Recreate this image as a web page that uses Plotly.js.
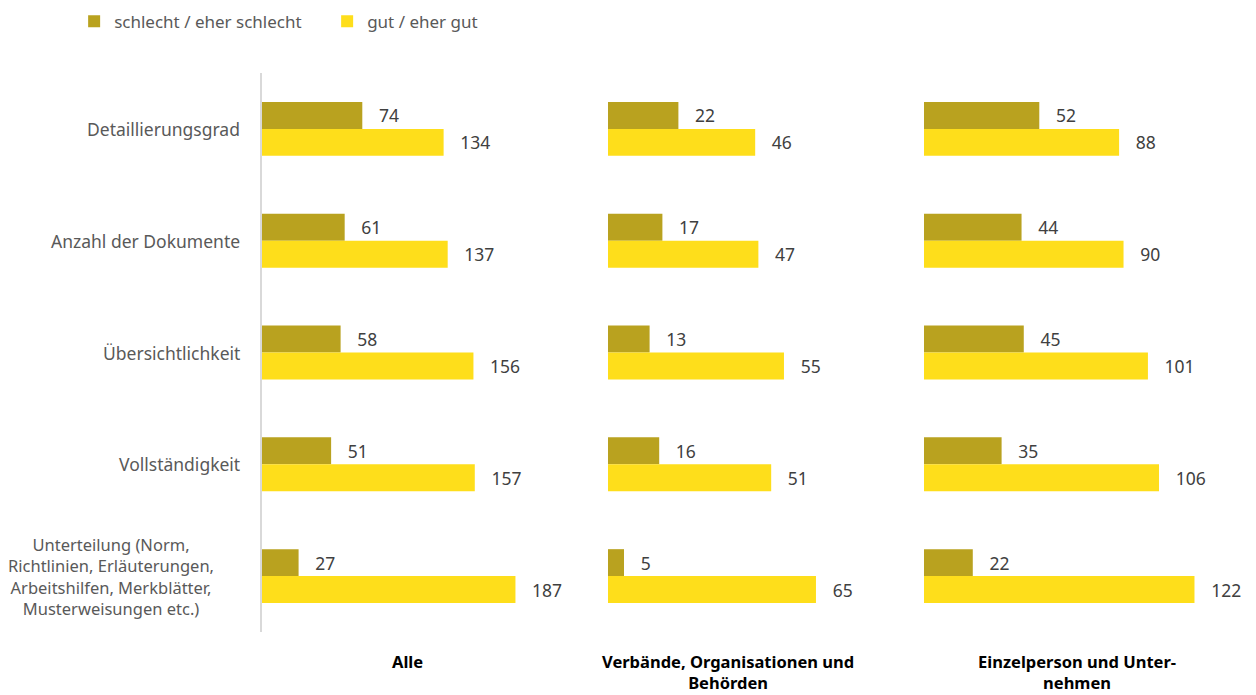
<!DOCTYPE html>
<html>
<head>
<meta charset="utf-8">
<script src="https://cdn.plot.ly/plotly-3.0.1.min.js"></script>
<style>
    html, body { margin: 0; padding: 0; background: #fff; }
    #chart { width: 1256px; height: 695px; }
</style>
</head>
<body>
<div id="chart"></div>
<script>
// Chart data
const categories = [
    'Detaillierungsgrad',
    'Anzahl der Dokumente',
    'Übersichtlichkeit',
    'Vollständigkeit',
    'Unterteilung (Norm, Richtlinien, Erläuterungen, Arbeitshilfen, Merkblätter, Musterweisungen etc.)'
];
const categoryLabels = [
    'Detaillierungsgrad',
    'Anzahl der Dokumente',
    'Übersichtlichkeit',
    'Vollständigkeit',
    'Unterteilung (Norm,<br>Richtlinien, Erläuterungen,<br>Arbeitshilfen, Merkblätter,<br>Musterweisungen etc.)'
];
const seriesNames = ['schlecht / eher schlecht', 'gut / eher gut'];
const panelTitles = ['Alle', 'Verbände, Organisationen und<br>Behörden', 'Einzelperson und Unter-<br>nehmen'];

const schlechtAlle = [74, 61, 58, 51, 27];
const gutAlle = [134, 137, 156, 157, 187];
const schlechtVerbaende = [22, 17, 13, 16, 5];
const gutVerbaende = [46, 47, 55, 51, 65];
const schlechtEinzel = [52, 44, 45, 35, 22];
const gutEinzel = [88, 90, 101, 106, 122];

const colors = ['#B9A21F', '#FEDE1B'];
const FONT = 'Noto Sans, Open Sans, sans-serif';
const pad = '\u00a0\u00a0\u00a0';

const panels = [
    { axis: 'x', values: [schlechtAlle, gutAlle] },
    { axis: 'x2', values: [schlechtVerbaende, gutVerbaende] },
    { axis: 'x3', values: [schlechtEinzel, gutEinzel] }
];

const traces = [];
panels.forEach((panel, p) => {
    panel.values.forEach((vals, s) => {
        traces.push({
            type: 'bar',
            orientation: 'h',
            name: seriesNames[s],
            legendgroup: seriesNames[s],
            showlegend: p === 0,
            x: vals,
            y: categories,
            xaxis: panel.axis,
            yaxis: 'y',
            marker: { color: colors[s] },
            text: vals,
            texttemplate: pad + '%{x}',
            textposition: 'outside',
            constraintext: 'none',
            cliponaxis: false,
            textfont: { family: FONT, size: 17.5, color: '#404040' },
            hoverinfo: 'x+y'
        });
    });
});

const hiddenX = {
    showgrid: false,
    zeroline: false,
    showline: false,
    showticklabels: false,
    ticks: '',
    fixedrange: true
};

// Category labels, centred block like the original
const annotations = categoryLabels.map((label, i) => ({
    text: label,
    xref: 'paper',
    yref: 'y',
    x: i === categoryLabels.length - 1 ? -0.0463 : -0.0201,
    y: categories[i],
    xanchor: 'right',
    yanchor: 'middle',
    align: 'center',
    showarrow: false,
    font: { family: FONT, size: i === categoryLabels.length - 1 ? 16.5 : 17.5, color: '#595959' }
}));

// Panel titles below each block
['x', 'x2', 'x3'].forEach((ax, i) => {
    annotations.push({
        text: '<b>' + panelTitles[i] + '</b>',
        xref: ax + ' domain',
        yref: 'paper',
        x: 0.5,
        y: -0.0286,
        xanchor: 'center',
        yanchor: 'top',
        align: 'center',
        showarrow: false,
        font: { family: FONT, size: 16.5, color: '#000000' }
    });
});

const layout = {
    width: 1256,
    height: 695,
    margin: { l: 262, r: 0, t: 73, b: 63 },
    paper_bgcolor: '#ffffff',
    plot_bgcolor: '#ffffff',
    font: { family: FONT, size: 17, color: '#595959' },
    barmode: 'group',
    bargap: 0.518,
    bargroupgap: 0,
    showlegend: true,
    legend: {
        orientation: 'h',
        x: -0.189,
        xanchor: 'left',
        y: 1.124,
        yanchor: 'top',
        entrywidth: 208,
        entrywidthmode: 'pixels',
        traceorder: 'normal',
        font: { family: FONT, size: 17, color: '#595959' }
    },
    xaxis: Object.assign({ domain: [0, 0.2918], range: [0, 214] }, hiddenX),
    xaxis2: Object.assign({ domain: [0.3481, 0.5895], range: [0, 75] }, hiddenX),
    xaxis3: Object.assign({ domain: [0.666, 0.9738], range: [0, 138] }, hiddenX),
    yaxis: {
        autorange: 'reversed',
        showgrid: false,
        zeroline: false,
        showticklabels: false,
        ticks: '',
        showline: true,
        linecolor: '#D9D9D9',
        linewidth: 2,
        fixedrange: true
    },
    annotations: annotations
};

Plotly.newPlot('chart', traces, layout, { displayModeBar: false, staticPlot: true });
</script>
</body>
</html>
